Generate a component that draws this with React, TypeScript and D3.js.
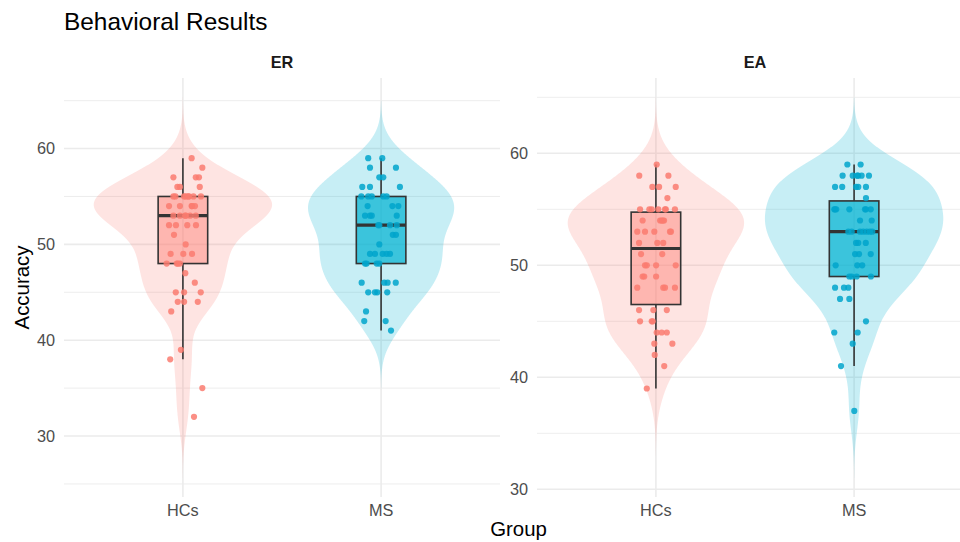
import React from 'react';
import * as d3 from 'd3';

// ---------- data (value, horizontal jitter in category units) ----------
const groups = ['HCs', 'MS'];
const panelNames = ['ER', 'EA'];

const erHCs: [number, number][] = [
  [59, 0.044], [58, 0.098],
  [57, -0.048], [57, 0.065], [57, 0.081],
  [56, -0.028], [56, -0.015], [56, 0.085],
  [55, -0.048], [55, -0.038], [55, 0.014], [55, 0.027], [55, 0.053], [55, 0.091], [55, 0.006], [55, 0.03],
  [54, -0.07], [54, -0.015], [54, 0.044], [54, 0.061], [54, 0.046],
  [53, -0.048], [53, -0.015], [53, 0.011], [53, 0.036], [53, 0.065], [53, 0.015],
  [52, -0.07], [52, -0.035], [52, 0.022], [52, 0.066],
  [51, -0.045], [50, 0.014],
  [49, -0.062], [49, 0.002], [49, 0.046],
  [48, -0.082], [48, -0.031], [48, -0.015], [48, -0.025],
  [47, 0.012], [46, 0.06],
  [45, -0.036], [45, 0.006], [45, 0.09],
  [44, -0.026], [44, 0.006], [44, 0.075],
  [43, -0.059], [39, -0.01], [38, -0.064], [35, 0.098], [32, 0.056],
];

const erMS: [number, number][] = [
  [59, -0.065], [59, 0.006],
  [58, -0.056], [58, 0.075],
  [57, -0.009], [57, 0.011],
  [56, -0.095], [56, -0.056], [56, 0.095],
  [55, -0.1], [55, -0.065], [55, -0.047], [55, 0.011], [55, 0.028],
  [54, -0.068], [54, 0.057], [54, 0.087],
  [53, -0.081], [53, -0.056], [53, -0.047], [53, 0.079],
  [52, -0.014], [52, -0.009], [52, 0.045], [52, 0.079],
  [51, 0.059], [51, 0.075],
  [50, -0.009],
  [49, -0.056], [49, -0.031], [49, 0.008], [49, 0.028], [49, 0.045],
  [48, -0.081], [48, -0.073], [48, -0.022], [48, -0.009],
  [46, -0.098], [46, 0.016], [46, 0.033], [46, 0.074],
  [45, -0.065], [45, -0.031], [45, -0.019], [45, 0.031],
  [43, -0.076], [42, -0.085], [42, 0.023], [41, 0.05],
];

const eaHCs: [number, number][] = [
  [59, 0.004],
  [58, -0.084], [58, 0.063],
  [57, -0.018], [57, 0.016], [57, 0.1],
  [56, 0.058],
  [55, -0.08], [55, -0.033], [55, -0.021], [55, 0.012], [55, 0.046], [55, 0.096], [55, 0.05],
  [54, -0.067], [54, 0.021], [54, 0.029], [54, 0.041], [54, 0.035],
  [53, -0.094], [53, -0.055], [53, -0.008], [53, 0.071], [53, 0.076],
  [52, -0.085], [52, 0.007], [52, 0.037],
  [51, -0.075], [51, 0.032],
  [50, -0.055], [50, -0.046], [50, 0.001], [50, 0.1],
  [49, -0.067], [49, -0.059], [49, 0.001],
  [48, -0.094], [48, 0.037], [48, 0.046], [48, 0.096],
  [46, -0.085], [46, -0.013], [46, 0.055],
  [45, -0.08], [45, -0.021], [45, -0.016],
  [44, 0.004], [44, 0.029], [44, 0.055],
  [43, -0.008], [43, 0.083],
  [42, -0.006], [41, 0.042], [39, -0.046],
];

const eaMS: [number, number][] = [
  [59, -0.034], [59, 0.033],
  [58, -0.058], [58, -0.007], [58, 0.016], [58, 0.038], [58, 0.075], [58, 0.02],
  [57, -0.096], [57, -0.06], [57, 0.01], [57, 0.021], [57, 0.06],
  [56, 0.06],
  [55, -0.1], [55, -0.096], [55, -0.024], [55, 0.055], [55, 0.084], [55, -0.09], [55, 0.06],
  [54, 0.03], [54, 0.089],
  [53, -0.029], [53, -0.012], [53, 0.03], [53, 0.046], [53, 0.064], [53, 0.08], [53, 0.092],
  [52, 0.01], [52, 0.021], [52, 0.059],
  [51, 0.005], [51, 0.025], [51, 0.084],
  [50, -0.093], [50, 0.016], [50, 0.041],
  [49, -0.024], [49, -0.012], [49, 0.013], [49, 0.085],
  [48, -0.096], [48, -0.051], [48, -0.029],
  [47, -0.071], [47, -0.024],
  [45, 0.06],
  [44, -0.1], [44, 0.018],
  [43, -0.007], [41, -0.066], [37, 0.001],
];

const majorTicks = [30, 40, 50, 60];
const minorTicks = [25, 35, 45, 55, 65];

const violinFill = ['#F8766D', '#00B2D2'];
const violinOpacity = [0.2, 0.22];
const boxFill = ['#FF7F73', '#00B2D2'];
const boxOpacity = [0.45, 0.7];
const pointFill = ['#FA7B70', '#00A5CB'];

const panelData = [
  [erHCs, erMS],
  [eaHCs, eaMS],
];

// ---------- layout ----------
const W = 960;
const H = 542;
const panelX = [[64, 500], [537, 973]];
const panelTop = 78;
const panelBottom = 497;
const FONT = '"Liberation Sans", Arial, Helvetica, sans-serif';

function bwNrd0(x: number[]) {
  const s = [...x].sort((a, b) => a - b);
  const sd = d3.deviation(s) as number;
  const iqr = (d3.quantile(s, 0.75) as number) - (d3.quantile(s, 0.25) as number);
  const lo = Math.min(sd, iqr / 1.34);
  return 0.9 * lo * Math.pow(s.length, -0.2);
}

function density(x: number[]) {
  const bw = bwNrd0(x);
  const lo = (d3.min(x) as number) - 3 * bw;
  const hi = (d3.max(x) as number) + 3 * bw;
  const n = 512;
  const pts: { v: number; d: number }[] = [];
  const c = 1 / (x.length * bw * Math.sqrt(2 * Math.PI));
  for (let i = 0; i < n; i++) {
    const v = lo + ((hi - lo) * i) / (n - 1);
    let s = 0;
    for (const xi of x) {
      const z = (v - xi) / bw;
      s += Math.exp(-0.5 * z * z);
    }
    pts.push({ v, d: s * c });
  }
  return { pts, lo, hi };
}

function boxStats(x: number[]) {
  const s = [...x].sort((a, b) => a - b);
  const q1 = d3.quantile(s, 0.25) as number;
  const med = d3.quantile(s, 0.5) as number;
  const q3 = d3.quantile(s, 0.75) as number;
  const iqr = q3 - q1;
  const lowF = q1 - 1.5 * iqr;
  const hiF = q3 + 1.5 * iqr;
  const wLo = d3.min(s.filter((v) => v >= lowF)) as number;
  const wHi = d3.max(s.filter((v) => v <= hiF)) as number;
  return { q1, med, q3, wLo, wHi };
}

function Panel({ idx }: { idx: number }) {
  const [x0, x1] = panelX[idx];
  const data = panelData[idx];
  const values = data.map((g) => g.map((p) => p[0]));
  const dens = values.map(density);
  const lo = d3.min(dens, (d) => d.lo) as number;
  const hi = d3.max(dens, (d) => d.hi) as number;
  const pad = (hi - lo) * 0.05;
  const y = d3.scaleLinear().domain([lo - pad, hi + pad]).range([panelBottom, panelTop]);
  const x = d3.scalePoint<string>().domain(groups).range([x0, x1]).padding(0.6);
  const step = x.step();
  const maxD = d3.max(dens, (d) => d3.max(d.pts, (p) => p.d) as number) as number;
  const halfMax = (0.9 * step) / 2;
  const [dlo, dhi] = y.domain();
  const majors = majorTicks.filter((t) => t >= dlo && t <= dhi);
  const minors = minorTicks.filter((t) => t >= dlo && t <= dhi);
  const boxHalf = (0.25 * step) / 2;

  return (
    <g>
      {/* grid */}
      {minors.map((t) => (
        <line key={'mi' + t} x1={x0} x2={x1} y1={y(t)} y2={y(t)} stroke="#EBEBEB" strokeWidth={0.9} />
      ))}
      {majors.map((t) => (
        <line key={'ma' + t} x1={x0} x2={x1} y1={y(t)} y2={y(t)} stroke="#EBEBEB" strokeWidth={1.6} />
      ))}
      {groups.map((g) => (
        <line key={'v' + g} x1={x(g)} x2={x(g)} y1={panelTop} y2={panelBottom} stroke="#EBEBEB" strokeWidth={1.6} />
      ))}
      {/* violins */}
      {groups.map((g, gi) => {
        const cx = x(g) as number;
        const area = d3
          .area<{ v: number; d: number }>()
          .y((p) => y(p.v))
          .x0((p) => cx - (p.d / maxD) * halfMax)
          .x1((p) => cx + (p.d / maxD) * halfMax);
        return (
          <path key={'vi' + g} d={area(dens[gi].pts) || ''} fill={violinFill[gi]} fillOpacity={violinOpacity[gi]} stroke="none" />
        );
      })}
      {/* boxes */}
      {groups.map((g, gi) => {
        const cx = x(g) as number;
        const b = boxStats(values[gi]);
        return (
          <g key={'bx' + g}>
            <line x1={cx} x2={cx} y1={y(b.q3)} y2={y(b.wHi)} stroke="#333333" strokeWidth={1.6} />
            <line x1={cx} x2={cx} y1={y(b.q1)} y2={y(b.wLo)} stroke="#333333" strokeWidth={1.6} />
            <rect
              x={cx - boxHalf}
              y={y(b.q3)}
              width={boxHalf * 2}
              height={y(b.q1) - y(b.q3)}
              fill={boxFill[gi]}
              fillOpacity={boxOpacity[gi]}
              stroke="#333333"
              strokeWidth={1.6}
            />
            <line x1={cx - boxHalf} x2={cx + boxHalf} y1={y(b.med)} y2={y(b.med)} stroke="#333333" strokeWidth={3.2} />
          </g>
        );
      })}
      {/* points */}
      {groups.map((g, gi) => {
        const cx = x(g) as number;
        return (
          <g key={'pt' + g}>
            {data[gi].map((p, i) => (
              <circle key={i} cx={cx + p[1] * step} cy={y(p[0])} r={3.1} fill={pointFill[gi]} fillOpacity={0.85} />
            ))}
          </g>
        );
      })}
      {/* y tick labels */}
      {majors.map((t) => (
        <text
          key={'yt' + t}
          x={x0 - 9}
          y={y(t)}
          dy="0.36em"
          textAnchor="end"
          fontSize={16.3}
          fill="#4D4D4D"
          fontFamily={FONT}
        >
          {t}
        </text>
      ))}
      {/* x tick labels */}
      {groups.map((g) => (
        <text
          key={'xt' + g}
          x={x(g)}
          y={516}
          textAnchor="middle"
          fontSize={16.3}
          fill="#4D4D4D"
          fontFamily={FONT}
        >
          {g}
        </text>
      ))}
      {/* strip */}
      <text
        x={(x0 + x1) / 2}
        y={68}
        textAnchor="middle"
        fontSize={16.3}
        fontWeight="bold"
        fill="#1A1A1A"
        fontFamily={FONT}
      >
        {panelNames[idx]}
      </text>
    </g>
  );
}

export default function App() {
  return (
    <svg
      width={W}
      height={H}
      viewBox={`0 0 ${W} ${H}`}
      style={{ position: 'absolute', left: 0, top: 0, background: '#FFFFFF' }}
    >
      <rect x={0} y={0} width={W} height={H} fill="#FFFFFF" />
      <Panel idx={0} />
      <Panel idx={1} />
      <text x={64} y={30} fontSize={24.4} fill="#000000" fontFamily={FONT}>
        Behavioral Results
      </text>
      <text
        x={(panelX[0][0] + panelX[1][1]) / 2}
        y={536}
        textAnchor="middle"
        fontSize={20.4}
        fill="#000000"
        fontFamily={FONT}
      >
        Group
      </text>
      <text
        transform={`translate(29, ${(panelTop + panelBottom) / 2}) rotate(-90)`}
        textAnchor="middle"
        fontSize={20.4}
        fill="#000000"
        fontFamily={FONT}
      >
        Accuracy
      </text>
    </svg>
  );
}
